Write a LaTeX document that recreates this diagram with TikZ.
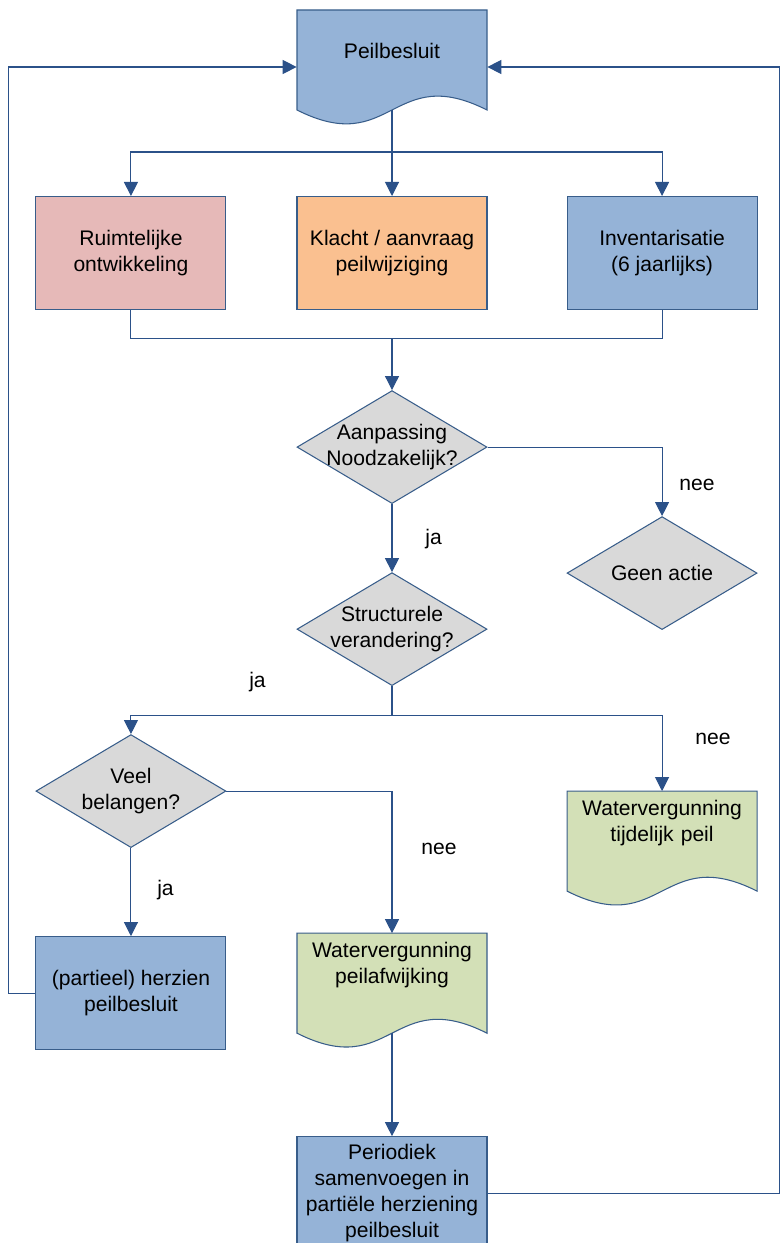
\documentclass[tikz,border=0pt]{standalone}
\usepackage{fontspec}
\setmainfont{Liberation Sans}
\usepackage{tikz}
\usetikzlibrary{shapes.geometric,arrows.meta,positioning,calc,backgrounds}

\definecolor{blauw}{HTML}{95B3D7}
\definecolor{roze}{HTML}{E6B9B8}
\definecolor{oranje}{HTML}{FAC090}
\definecolor{grijs}{HTML}{D9D9D9}
\definecolor{groen}{HTML}{D3E0B7}
\definecolor{rand}{HTML}{385D8A}
\definecolor{lijnkleur}{HTML}{2B5189}

\begin{document}
\begin{tikzpicture}[
    node distance=1.0cm,
    font=\fontsize{12}{14.8}\selectfont,
    block/.style={rectangle, draw=rand, line width=0.6pt, fill=#1, minimum width=3.8cm, minimum height=2.26cm, align=center, inner sep=0.1cm},
    beslis/.style={diamond, draw=rand, line width=0.6pt, fill=grijs, minimum width=3.8cm, minimum height=2.26cm, shape aspect=1.68, inner sep=-0.1cm, align=center},
    doc/.style={text width=3.6cm, inner xsep=0.1cm, inner ysep=0.18cm, align=center, anchor=north},
    lijn/.style={draw=lijnkleur, line width=0.6pt},
    pijl/.style={lijn, -{Triangle[length=0.28cm, width=0.28cm]}},
    lbl/.style={inner sep=0pt}
]
    \useasboundingbox (0,0) rectangle (15.6,-24.86);

    % bovenste rij
    \node [doc, inner ysep=0.66cm] (pb) at (7.84,-0.2) {Peilbesluit};
    \node [block=oranje, below=3.72cm of pb.north] (klacht) {Klacht / aanvraag\\peilwijziging};
    \node [block=roze, left=1.4cm of klacht] (ruim) {Ruimtelijke\\ontwikkeling};
    \node [block=blauw, right=1.58cm of klacht] (inv) {Inventarisatie\\(6 jaarlijks)};

    % beslissingen
    \node [beslis, below=1.6cm of klacht] (aan) {Aanpassing\\Noodzakelijk?};
    \node [beslis, below=4.12cm of inv] (geen) {Geen actie};
    \node [beslis, below=1.36cm of aan] (struct) {Structurele\\verandering?};
    \node [beslis, below=8.48cm of ruim] (veel) {Veel\\belangen?};

    % uitkomsten
    \node [block=blauw, below=1.76cm of veel] (herz) {(partieel) herzien\\peilbesluit};
    \node [doc, below=4.94cm of struct] (wvp) {Watervergunning\\peilafwijking};
    \node [doc, below=3.22cm of geen] (wvt) {Watervergunning\\tijdelijk peil};
    \node [block=blauw, below=4.06cm of wvp.north] (per) {Periodiek\\samenvoegen in\\partiële herziening\\peilbesluit};

    % ja / nee
    \node [lbl, above right=0.5cm and 0.34cm of geen.north] (nee1) {nee};
    \node [lbl, above right=0.46cm and 0.66cm of struct.north] (ja1) {ja};
    \node [lbl, above right=0.84cm and 2.36cm of veel.north] (ja2) {ja};
    \node [lbl, above right=0.92cm and 0.66cm of wvt.north] (nee2) {nee};
    \node [lbl, above right=1.56cm and 0.58cm of wvp.north] (nee3) {nee};
    \node [lbl, above right=0.72cm and 0.52cm of herz.north] (ja3) {ja};

    % documentvormen
    \begin{pgfonlayer}{background}
    \foreach \d/\c in {pb/blauw, wvt/groen, wvp/groen}
        \draw [draw=rand, line width=0.6pt, fill=\c] ($(\d.north)+(-1.9,0)$) -- ($(\d.north)+(1.9,0)$) -- ($(\d.north)+(1.9,-2)$)
            .. controls ($(\d.north)+(0,-1.04)$) and ($(\d.north)+(0,-2.96)$) .. ($(\d.north)+(-1.9,-2)$) -- cycle;
    \end{pgfonlayer}

    \coordinate (pb-b) at ($(pb.north)+(0,-2)$);
    \coordinate (pb-r) at ($(pb.north east)+(0,-1.14)$);
    \coordinate (pb-l) at ($(pb.north west)+(0,-1.14)$);
    \coordinate (wvp-b) at ($(wvp.north)+(0,-2)$);
    \coordinate [below=0.84cm of pb-b] (t1);
    \coordinate [below=0.56cm of klacht] (t2);
    \coordinate [below=0.58cm of struct] (t3);

    % verbindingen
    \draw [lijn] (pb-b) -- (t1);
    \draw [pijl] (t1) -| (ruim);
    \draw [pijl] (t1) -- (klacht);
    \draw [pijl] (t1) -| (inv);
    \draw [lijn] (ruim) |- (t2) -| (inv);
    \draw [pijl] (t2) -- (aan);
    \draw [pijl] (aan) -| (geen);
    \draw [pijl] (aan) -- (struct);
    \draw [lijn] (struct) -- (t3);
    \draw [pijl] (t3) -| (veel);
    \draw [pijl] (t3) -| (wvt);
    \draw [pijl] (veel) -| (wvp);
    \draw [pijl] (veel) -- (herz);
    \draw [pijl] (wvp-b) -- (per);
    \draw [pijl] (per) -| ($(pb-r)+(5.84,0)$) -- (pb-r);
    \draw [pijl] (herz) -| ($(pb-l)+(-5.76,0)$) -- (pb-l);
\end{tikzpicture}
\end{document}
